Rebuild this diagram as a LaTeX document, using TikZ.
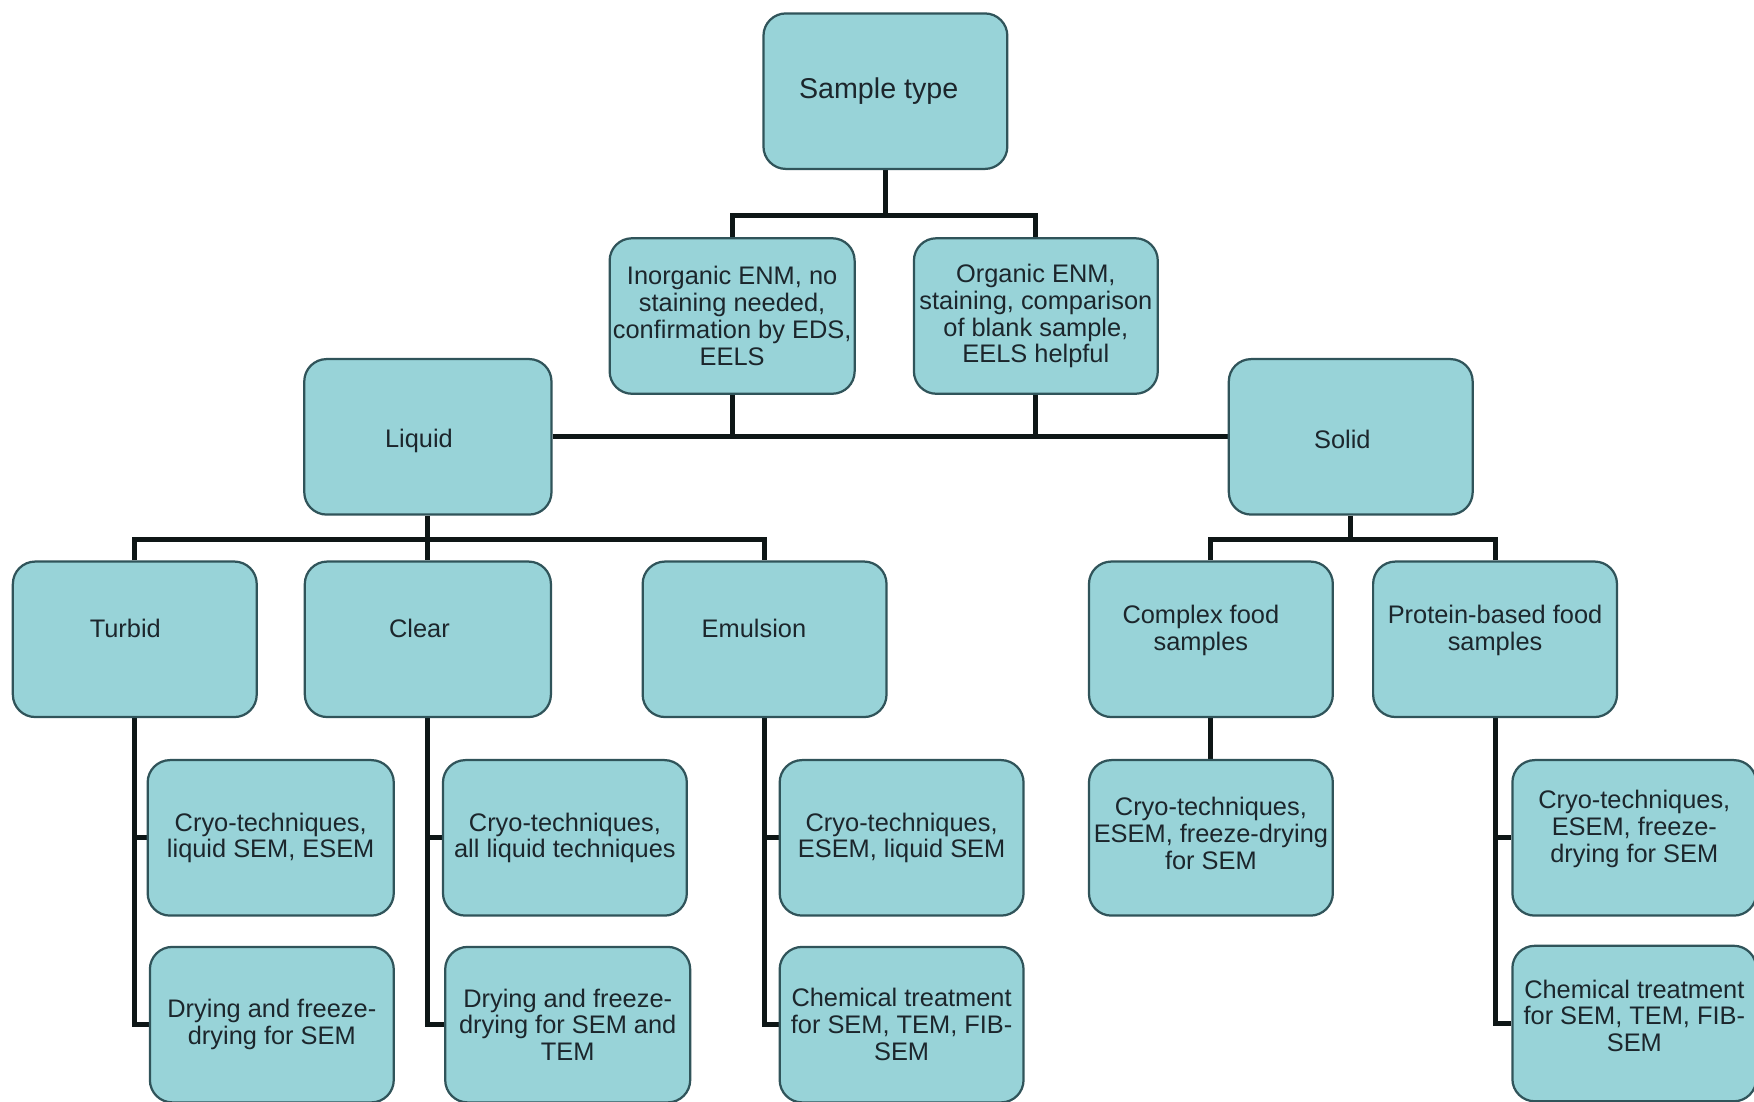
\documentclass[tikz,border=0pt]{standalone}
\usepackage{fontspec}
\setmainfont{Liberation Sans}
\usetikzlibrary{backgrounds}
\definecolor{boxfill}{RGB}{152,211,216}
\definecolor{boxedge}{RGB}{48,84,90}
\definecolor{boxtext}{RGB}{28,38,44}
\definecolor{linkcol}{RGB}{14,22,22}
% extra depth on the last line, to raise a label inside its box
\newcommand\liftby[1]{\rule[-#1]{0pt}{#1}}
% extra height on the first line, to lower a label inside its box
\newcommand\dropby[1]{\rule{0pt}{#1}}

\begin{document}
\begin{tikzpicture}[x=0.5pt, y=-0.5pt,
  box/.style={draw=boxedge, fill=boxfill, line width=1pt, rounded corners=10pt,
    minimum width=109pt, minimum height=69.5pt, inner sep=0.5pt, align=center,
    text=boxtext, font=\fontsize{11.35pt}{12pt}\selectfont},
  link/.style={line width=2.2pt, linkcol, line join=miter}]

\useasboundingbox (0,0) rectangle (1568,985);

% top of the tree
\node[box, font=\fontsize{12.8pt}{14pt}\selectfont] (st) at (791.5,81.5) {\hspace*{-6pt}Sample type};
\node[box, minimum width=109.5pt] (inorg) at (654.5,282.5)
  {Inorganic ENM, no\\staining needed,\\confirmation by EDS,\\EELS};
\node[box] (org) at (926,282.5)
  {Organic ENM,\\staining, comparison\\of blank sample,\\EELS helpful};
\node[box, minimum width=110.5pt] (liq) at (382.5,390.5) {\dropby{12pt}\hspace*{-8pt}Liquid};
\node[box] (sol) at (1207.5,390.5) {\dropby{10.3pt}\hspace*{-7.5pt}Solid};

% second level
\node[box] (tur) at (120.5,571.5) {\hspace*{-8.5pt}Turbid\liftby{9.5pt}};
\node[box, minimum width=110pt] (clr) at (382.5,571.5) {\hspace*{-7.5pt}Clear\liftby{9.5pt}};
\node[box] (emu) at (683.5,571.5) {\hspace*{-9.5pt}Emulsion\liftby{9.5pt}};
\node[box] (cpx) at (1082.5,571.5) {\hspace*{-9pt}Complex food\\\hspace*{-9pt}samples\liftby{10pt}};
\node[box] (pro) at (1336.5,571.5) {Protein-based food\\samples\liftby{10pt}};

% preparation techniques
\node[box, minimum width=110pt] (tur1) at (242,749) {Cryo-techniques,\\liquid SEM, ESEM};
\node[box] (tur2) at (243,916) {Drying and freeze-\\drying for SEM};
\node[box] (clr1) at (505,749) {Cryo-techniques,\\all liquid techniques};
\node[box, minimum width=109.5pt] (clr2) at (507.5,916) {Drying and freeze-\\drying for SEM and\\TEM};
\node[box] (emu1) at (806,749) {Cryo-techniques,\\ESEM, liquid SEM};
\node[box] (emu2) at (806,916) {Chemical treatment\\for SEM, TEM, FIB-\\SEM};
\node[box] (cpx1) at (1082.5,749) {Cryo-techniques,\\ESEM, freeze-drying\\for SEM\liftby{4pt}};
\node[box] (pro1) at (1461,749) {Cryo-techniques,\\ESEM, freeze-\\drying for SEM\liftby{10.4pt}};
\node[box] (pro2) at (1461,915) {Chemical treatment\\for SEM, TEM, FIB-\\SEM\liftby{7pt}};

\begin{scope}[on background layer]
  \fill[white] (0,0) rectangle (1568,985);
  \coordinate (j1) at (791.5,193);
  \coordinate (j2) at (382.5,482);
  \coordinate (j3) at (1207.5,482);

  \draw[link] (st.south) -- (j1);
  \draw[link] (inorg.north) |- (j1) -| (org.north);
  \draw[link] (liq.east) -- (sol.west);
  \draw[link] (inorg.south) -- (inorg.south |- liq.east);
  \draw[link] (org.south) -- (org.south |- liq.east);

  \draw[link] (liq.south) -- (j2);
  \draw[link] (tur.north) |- (j2) -| (emu.north);
  \draw[link] (j2) -- (clr.north);
  \draw[link] (sol.south) -- (j3);
  \draw[link] (cpx.north) |- (j3) -| (pro.north);

  \draw[link] (tur.south) |- (tur2.west);
  \draw[link] (tur.south |- tur1.west) -- (tur1.west);
  \draw[link] (clr.south) |- (clr2.west);
  \draw[link] (clr.south |- clr1.west) -- (clr1.west);
  \draw[link] (emu.south) |- (emu2.west);
  \draw[link] (emu.south |- emu1.west) -- (emu1.west);
  \draw[link] (cpx.south) -- (cpx1.north);
  \draw[link] (pro.south) |- (pro2.west);
  \draw[link] (pro.south |- pro1.west) -- (pro1.west);
\end{scope}
\end{tikzpicture}
\end{document}
